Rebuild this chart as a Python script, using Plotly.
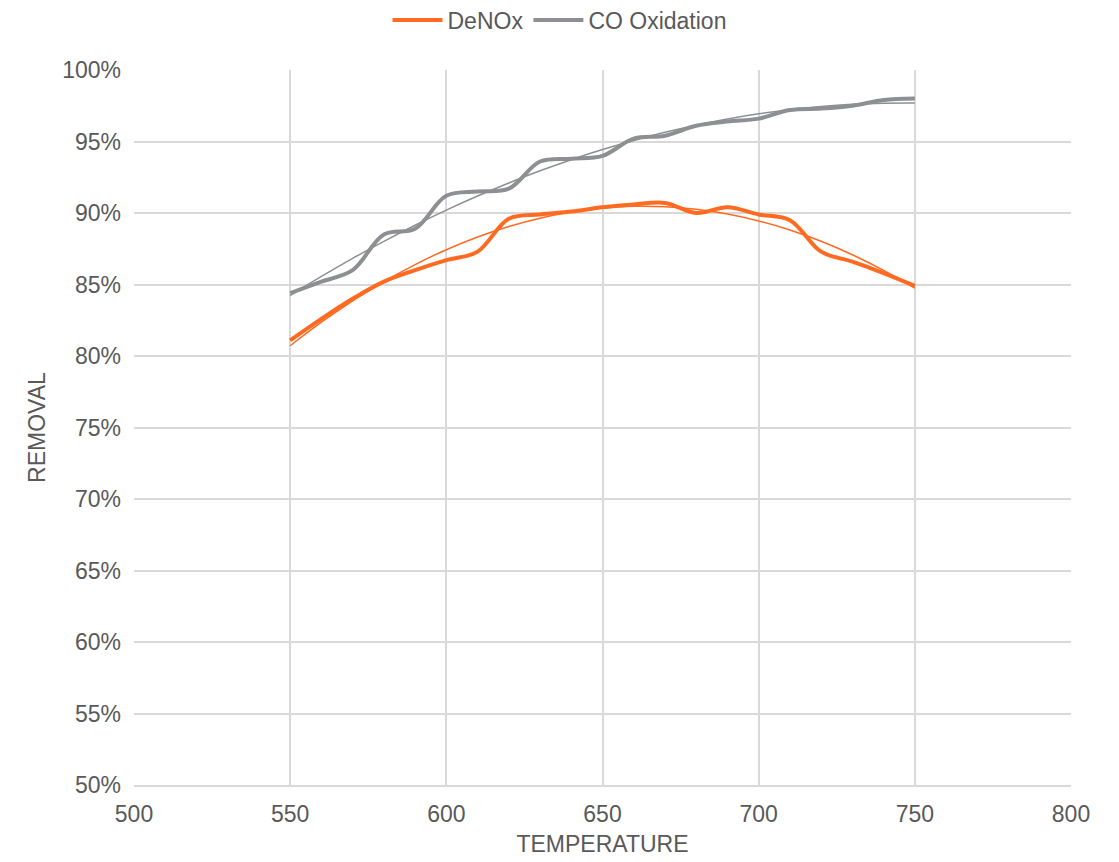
import numpy as np
import plotly.graph_objects as go

temperature = [550, 560, 570, 580, 590, 600, 610, 620, 630, 640, 650,
               660, 670, 680, 690, 700, 710, 720, 730, 740, 750]
denox = [81.1, 82.6, 84.0, 85.2, 86.0, 86.7, 87.3, 89.6, 89.9, 90.1, 90.4,
         90.6, 90.7, 90.0, 90.4, 89.9, 89.5, 87.3, 86.6, 85.8, 84.9]
co_ox = [84.4, 85.2, 86.0, 88.5, 88.9, 91.2, 91.5, 91.7, 93.6, 93.8, 94.0,
         95.2, 95.4, 96.1, 96.4, 96.6, 97.2, 97.3, 97.5, 97.9, 98.0]

x_ticks = [500, 550, 600, 650, 700, 750, 800]
y_ticks = [50, 55, 60, 65, 70, 75, 80, 85, 90, 95, 100]

ORANGE = "#FF6A21"
GRAY = "#8D8F93"
FONT = "Liberation Sans, Arial, sans-serif"
TXT = "#595959"
FS = 23

t = np.array(temperature, dtype=float)
fit_den = np.polyval(np.polyfit(t, denox, 2), t)
fit_co = np.polyval(np.polyfit(t, co_ox, 2), t)

fig = go.Figure()
fig.add_trace(go.Scatter(x=temperature, y=fit_den, mode="lines", showlegend=False,
                         line=dict(color=ORANGE, width=1.5, shape="spline"), hoverinfo="skip"))
fig.add_trace(go.Scatter(x=temperature, y=fit_co, mode="lines", showlegend=False,
                         line=dict(color=GRAY, width=1.5, shape="spline"), hoverinfo="skip"))
fig.add_trace(go.Scatter(x=temperature, y=denox, mode="lines", name="DeNOx",
                         line=dict(color=ORANGE, width=4, shape="spline", smoothing=1.0)))
fig.add_trace(go.Scatter(x=temperature, y=co_ox, mode="lines", name="CO Oxidation",
                         line=dict(color=GRAY, width=4, shape="spline", smoothing=1.0)))

fig.update_layout(
    width=1119, height=862,
    margin=dict(l=134, r=48, t=70, b=77, autoexpand=False),
    paper_bgcolor="white", plot_bgcolor="white",
    font=dict(family=FONT, size=FS, color=TXT),
    legend=dict(orientation="h", x=0.5, xanchor="center", xref="container",
                y=1 - 20 / 862, yanchor="middle", yref="container",
                font=dict(size=FS, color=TXT), traceorder="normal",
                itemwidth=50),
    xaxis=dict(range=[500, 800], tickvals=x_ticks, ticktext=[str(v) for v in x_ticks],
               showgrid=True, gridcolor="#D9D9D9", gridwidth=1.5, zeroline=False,
               showline=True, linecolor="#D9D9D9", linewidth=1.5, mirror=False,
               ticks="", ticklabelstandoff=8, tickfont=dict(size=FS, color=TXT),
               title=dict(text="TEMPERATURE", font=dict(size=FS, color=TXT), standoff=10)),
    yaxis=dict(range=[50, 100], tickvals=y_ticks, ticktext=[f"{v}%" for v in y_ticks],
               showgrid=True, gridcolor="#D9D9D9", gridwidth=1.5, zeroline=False,
               showline=False, ticks="", ticklabelstandoff=12, tickfont=dict(size=FS, color=TXT),
               title=dict(text="REMOVAL", font=dict(size=FS, color=TXT), standoff=10)),
)

fig.write_html("out.html")
